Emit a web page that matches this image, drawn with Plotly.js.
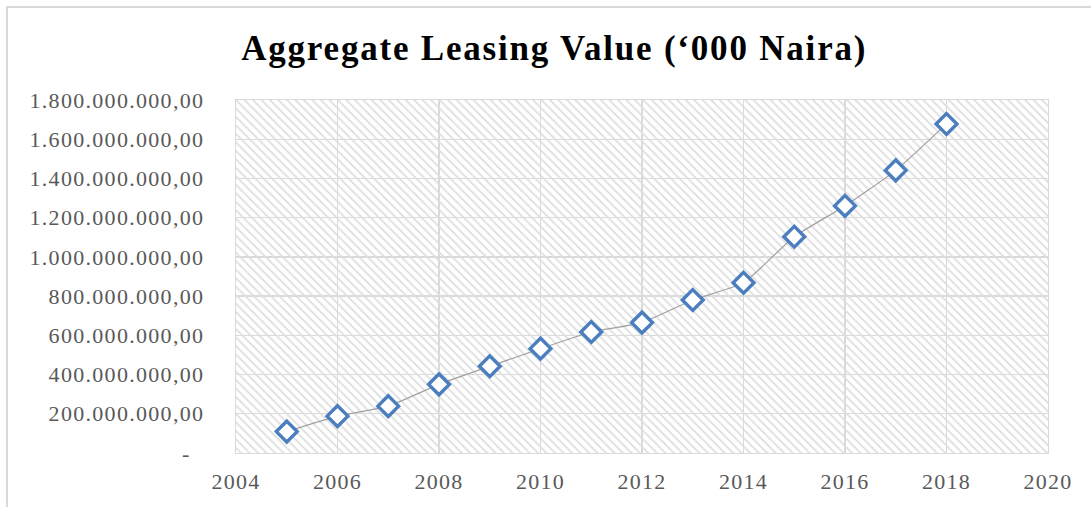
<!DOCTYPE html>
<html>
<head>
<meta charset="utf-8">
<script src="https://cdn.plot.ly/plotly-3.0.1.min.js"></script>
<style>
  html, body { margin: 0; padding: 0; background: #fff; }
  #chart { width: 1091px; height: 507px; position: relative; }
  #frame { position: absolute; left: 6px; top: 6px; width: 1100px; height: 520px;
           border: 2px solid #d9d9d9; box-sizing: border-box; pointer-events: none; }
  .xtick text, .ytick text { letter-spacing: 1.3px; }
  .gtitle { letter-spacing: 1.8px; }
</style>
</head>
<body>
<div id="chart"><div id="frame"></div></div>
<script>
const years = [2005, 2006, 2007, 2008, 2009, 2010, 2011, 2012, 2013, 2014, 2015, 2016, 2017, 2018];
const leasingValue = [109e6, 188e6, 239e6, 350e6, 442e6, 532e6, 617e6, 665e6, 780e6, 868e6, 1103e6, 1260e6, 1441e6, 1678e6];
const yTickVals = [0, 200e6, 400e6, 600e6, 800e6, 1000e6, 1200e6, 1400e6, 1600e6, 1800e6];
const yTickText = ['-\u00a0\u00a0', '200.000.000,00', '400.000.000,00', '600.000.000,00', '800.000.000,00',
  '1.000.000.000,00', '1.200.000.000,00', '1.400.000.000,00', '1.600.000.000,00', '1.800.000.000,00'];
const xTickVals = [2004, 2006, 2008, 2010, 2012, 2014, 2016, 2018, 2020];
const xRange = [2004, 2020];
const yRange = [0, 1800e6];

const font = 'Liberation Serif, Times New Roman, serif';

const background = {
  x: [xRange[0], xRange[1], xRange[1], xRange[0], xRange[0]],
  y: [yRange[0], yRange[0], yRange[1], yRange[1], yRange[0]],
  mode: 'none', fill: 'toself', fillcolor: 'rgba(0,0,0,0)',
  fillpattern: { shape: '\\', fgcolor: '#dedede', bgcolor: 'rgba(0,0,0,0)', size: 6, solidity: 0.3 },
  hoverinfo: 'skip', showlegend: false
};

const series = {
  x: years, y: leasingValue,
  mode: 'lines+markers',
  line: { color: '#a0a0a0', width: 1.2, shape: 'spline', smoothing: 0.5 },
  marker: { symbol: 'diamond', size: 16, color: '#ffffff', line: { color: '#4a7ebf', width: 3.4 } },
  showlegend: false
};

const layout = {
  width: 1091, height: 507,
  margin: { l: 236, r: 43, t: 100, b: 54 },
  paper_bgcolor: 'rgba(0,0,0,0)', plot_bgcolor: '#ffffff',
  title: {
    text: '<b>Aggregate Leasing Value (\u2018000 Naira)</b>',
    font: { family: font, size: 35, color: '#000000' },
    x: 0.508, xanchor: 'center', xref: 'container',
    y: 0.905, yanchor: 'middle', yref: 'container'
  },
  xaxis: {
    range: xRange, tickvals: xTickVals, ticks: '', ticklabelstandoff: 8,
    showgrid: true, gridcolor: '#d9d9d9', gridwidth: 1.3,
    showline: true, linecolor: '#d9d9d9', linewidth: 1.3, mirror: true, zeroline: false,
    tickfont: { family: font, size: 22, color: '#595959' }
  },
  yaxis: {
    range: yRange, tickvals: yTickVals, ticktext: yTickText, ticks: '', ticklabelstandoff: 26,
    showgrid: true, gridcolor: '#d9d9d9', gridwidth: 1.3,
    showline: true, linecolor: '#d9d9d9', linewidth: 1.3, mirror: true, zeroline: false,
    tickfont: { family: font, size: 22, color: '#595959' }
  }
};

Plotly.newPlot('chart', [background, series], layout, { displayModeBar: false, staticPlot: true });
</script>
</body>
</html>
